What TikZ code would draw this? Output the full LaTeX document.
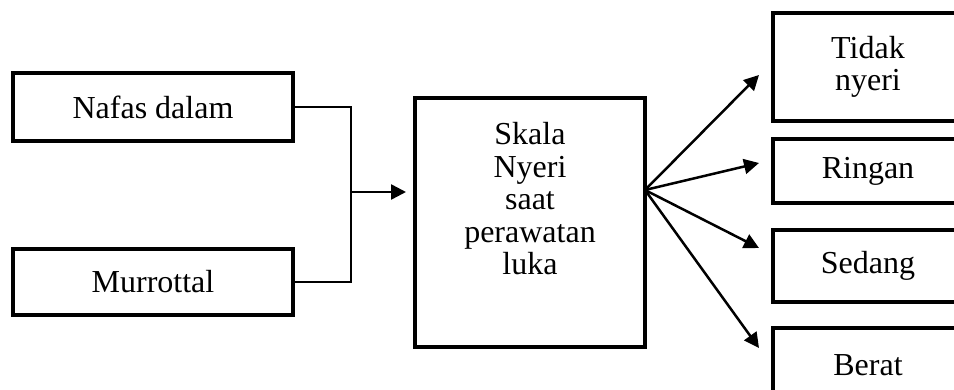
\documentclass[tikz,border=0pt]{standalone}
\usepackage{fontspec}
\setmainfont{Liberation Serif}
\usetikzlibrary{arrows.meta,calc}
\begin{document}
\begin{tikzpicture}[x=1pt,y=-1pt,
  box/.style={draw,line width=3.5pt,inner sep=0pt},
  lbl/.style={font=\fontsize{32}{32.5}\selectfont,align=center,inner sep=0pt},
  conn/.style={line width=2.5pt},
  arr/.style={line width=2.5pt,-{Triangle[length=15pt,width=15pt]}}]
\useasboundingbox (0,0) rectangle (954,390);
\clip (0,0) rectangle (954,390);
% left boxes
\node[box,lbl,minimum width=280pt,minimum height=68pt] (nafas) at (153,107) {Nafas dalam};
\node[box,lbl,minimum width=280pt,minimum height=66pt] (murrottal) at (153,282) {Murrottal};
% central box
\node[box,minimum width=230pt,minimum height=249pt] (skala) at (530,222.5) {};
\node[lbl,text width=220pt] (skalatext) at (530,199) {Skala\\Nyeri\\saat\\perawatan\\luka};
% right boxes
\node[box,lbl,text width=180pt,minimum width=190pt,minimum height=108pt] (tidak) at (868,67) {Tidak\\nyeri};
\node[box,lbl,minimum width=190pt,minimum height=64pt] (ringan) at (868,171) {Ringan};
\node[box,lbl,minimum width=190pt,minimum height=72pt] (sedang) at (868,266) {Sedang};
\node[box,lbl,minimum width=190pt,minimum height=74pt] (berat) at (868,365) {Berat};
% left connector
\coordinate (join) at (351,192);
\coordinate (intip) at (406,192);
\draw[conn] (nafas.east) -| (join) |- (murrottal.east);
\draw[arr] (join) -- (intip);
% fan
\coordinate (fan) at (645,190);
\coordinate (t1) at (759,75);
\coordinate (t2) at (759,163);
\coordinate (t3) at (759,248);
\coordinate (t4) at (759,348);
\draw[arr] (fan) -- (t1);
\draw[arr] (fan) -- (t2);
\draw[arr] (fan) -- (t3);
\draw[arr] (fan) -- (t4);
\end{tikzpicture}
\end{document}
